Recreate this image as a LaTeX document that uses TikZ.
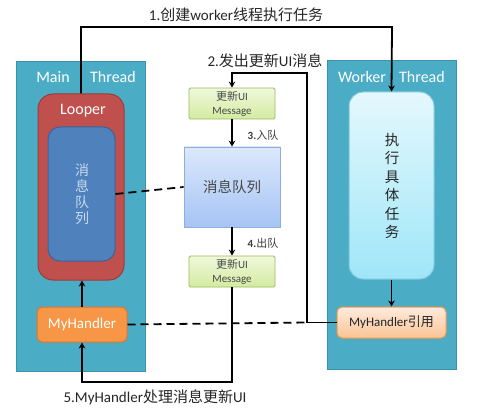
\documentclass[tikz,border=0pt]{standalone}
\usepackage{fontspec}
\setmainfont{Carlito}
\newfontfamily\cjk{Noto Sans CJK SC}
\usetikzlibrary{arrows.meta}
\definecolor{panel}{HTML}{4BACC6}
\definecolor{panelb}{HTML}{3A93AB}
\definecolor{looperc}{HTML}{C0504D}
\definecolor{looperb}{HTML}{9E3B38}
\definecolor{innerc}{HTML}{4F81BD}
\definecolor{innerb}{HTML}{3A6597}
\definecolor{greent}{HTML}{F0F8DC}
\definecolor{greenb}{HTML}{D2EBA0}
\definecolor{greenl}{HTML}{9BBB59}
\definecolor{queuet}{HTML}{DCE8FB}
\definecolor{queueb}{HTML}{A6C4F5}
\definecolor{queuel}{HTML}{8EAEDB}
\definecolor{orangec}{HTML}{F79646}
\definecolor{orangeb}{HTML}{D9782F}
\definecolor{peacht}{HTML}{FDEBDD}
\definecolor{peachb}{HTML}{FBC496}
\definecolor{exect}{HTML}{E4F8FD}
\definecolor{execb}{HTML}{9FE6F8}
\definecolor{execl}{HTML}{7FC6DA}
\definecolor{labc}{HTML}{262626}
\definecolor{vtext}{HTML}{C9D9EE}
\begin{document}
\begin{tikzpicture}[x=1pt,y=-1pt,
  panelbox/.style={draw=panelb,fill=panel,line width=1pt,minimum width=129pt,minimum height=308pt,inner sep=0pt},
  msgbox/.style={draw=greenl,line width=0.8pt,top color=greent,bottom color=greenb,rounded corners=1.5pt,minimum width=86pt,minimum height=31pt,inner sep=0pt,align=center,text=labc!85,font=\fontsize{11}{14}\selectfont},
  arr/.style={draw=black,line width=1.8pt,-{Stealth[length=6pt,width=6.5pt]}},
  dashline/.style={draw=black,line width=1.8pt,dash pattern=on 8pt off 5pt},
  lab/.style={text=labc,font=\fontsize{15}{18}\selectfont,inner sep=0pt},
  slab/.style={text=labc!90,font=\fontsize{11}{13}\selectfont,inner sep=0pt},
  wlab/.style={text=white,font=\fontsize{16}{19}\selectfont,inner sep=0pt}]
\useasboundingbox (0,0) rectangle (497,411);
\fill[white] (0,0) rectangle (497,411);

% panels
\node[panelbox,minimum height=309pt] (mainp) at (80.5,216.5) {};
\node[panelbox] (workp) at (391.5,215) {};
\node[wlab] (mainl) at (53,77) {Main};
\node[wlab] (mainr) at (113,77) {Thread};
\node[wlab] (workl) at (362,77) {Worker};
\node[wlab] (workr) at (422,77) {Thread};

% looper
\node[draw=looperb,fill=looperc,line width=1pt,rounded corners=15pt,minimum width=86pt,minimum height=186pt,inner sep=0pt] (looper) at (81,187) {};
\node[wlab] (looperl) at (83,111) {Looper};
\node[draw=innerb,fill=innerc,line width=1pt,rounded corners=12pt,minimum width=67pt,minimum height=134pt,inner sep=0pt] (inner) at (81.5,194) {};
\node[text=vtext,align=center,font=\cjk\fontsize{14}{16}\selectfont,inner sep=0pt] (innert) at (82,194) {消\\息\\队\\列};

% handler
\node[draw=orangeb,fill=orangec,line width=1pt,rounded corners=5pt,minimum width=90pt,minimum height=35pt,inner sep=0pt,text=white,font=\fontsize{15}{18}\selectfont] (myh) at (82,324.5) {MyHandler};

% middle
\node[msgbox] (msg1) at (232,103.5) {{\cjk 更新}UI\\Message};
\node[draw=queuel,line width=0.8pt,top color=queuet,bottom color=queueb,minimum width=96pt,minimum height=80pt,inner sep=0pt,text=labc!85,font=\cjk\fontsize{14.5}{17}\selectfont] (queue) at (232,187) {消息队列};
\node[msgbox] (msg2) at (232,271.5) {{\cjk 更新}UI\\Message};

% worker
\node[draw=execl,line width=1pt,top color=exect,bottom color=execb,rounded corners=14pt,minimum width=85pt,minimum height=187pt,inner sep=0pt] (exec) at (391.5,185.5) {};
\node[text=labc,align=center,font=\cjk\fontsize{14.5}{18.4}\selectfont,inner sep=0pt] (exect) at (392,186) {执\\行\\具\\体\\任\\务};
\node[draw=orangec,line width=1pt,top color=peacht,bottom color=peachb,rounded corners=5pt,minimum width=109pt,minimum height=31pt,inner sep=0pt,text=labc,font=\fontsize{13}{16}\selectfont] (ref) at (391.5,322.5) {MyHandler{\cjk 引用}};

% labels
\node[lab] (l1) at (236,15) {1.{\cjk 创建}worker{\cjk 线程执行任务}};
\node[lab] (l2) at (265,61) {2.{\cjk 发出更新}UI{\cjk 消息}};
\node[slab] (l3) at (263,135) {\textbf{3.}{\cjk 入队}};
\node[slab] (l4) at (263,243) {\textbf{4.}{\cjk 出队}};
\node[lab] (l5) at (155,397) {5.MyHandler{\cjk 处理消息更新}UI};

% coordinates
\coordinate (c1) at (392,27);
\coordinate (c2) at (307,73);
\coordinate (c5) at (82,382);

% connectors
\draw[arr] (looper.north) |- (c1) -- (exec.north);
\draw[arr] (ref.west) -| (c2) -| (msg1.north);
\draw[arr] (msg1.south) -- (queue.north);
\draw[arr] (queue.south) -- (msg2.north);
\draw[arr] (msg2.south) |- (c5) -- (myh.south);
\draw[arr] (myh.north) -- (myh.north |- looper.south);
\draw[arr] (exec.south) -- (ref.north);
\draw[dashline] (inner.east) -- (queue.west);
\draw[dashline] (myh.east) -- (c2 |- ref.west);
\end{tikzpicture}
\end{document}
